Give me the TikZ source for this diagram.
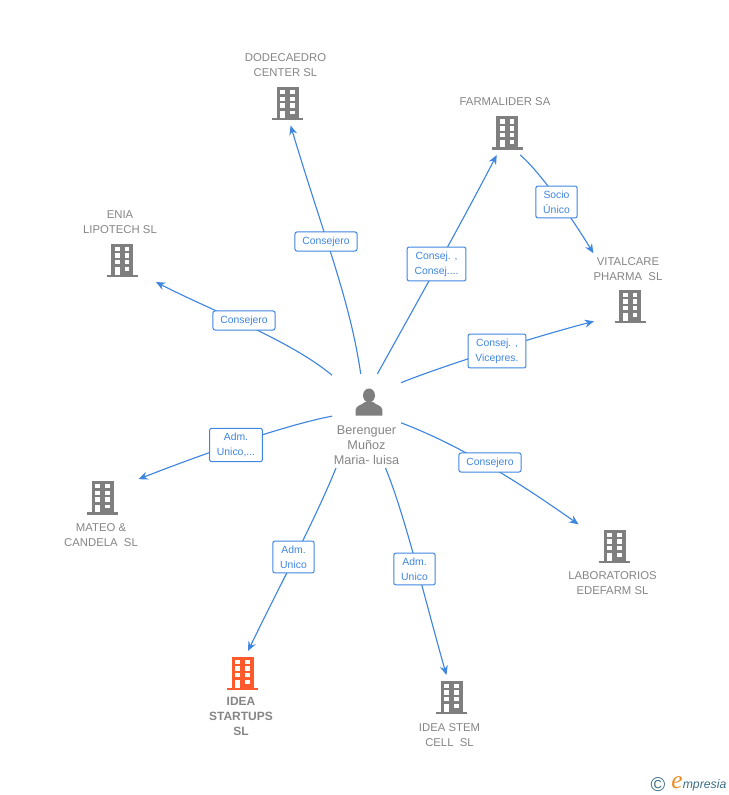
\documentclass[tikz,border=0pt]{standalone}
\usepackage{fontspec}
\setmainfont{Liberation Sans}
\newfontfamily\logoserif{Liberation Serif}
\usetikzlibrary{arrows.meta}
\definecolor{linkblue}{HTML}{3F86E0}
\definecolor{iconteal}{HTML}{3D6E86}
\definecolor{icongray}{HTML}{7F7F7F}
\definecolor{textgray}{HTML}{858585}
\definecolor{startorange}{HTML}{FF5A2C}
\definecolor{logoorange}{HTML}{F08A24}
\tikzset{
  link/.style={linkblue, line width=0.85pt, -{Stealth[length=7pt,width=6pt]}},
  tag/.style={draw=linkblue, fill=white, rounded corners=1.5pt, line width=0.75pt, text=linkblue, align=center,
    font=\fontsize{7.8}{11.2}\selectfont, inner xsep=5.5pt, inner ysep=3.5pt},
  hub/.style={minimum width=54pt, minimum height=33pt, inner sep=0pt, outer sep=0pt},
  company/.style={text=textgray, align=center, font=\fontsize{8.5}{11.2}\selectfont, inner xsep=0pt, inner ysep=3pt},
  pics/building/.style={code={
    \fill[#1] (-11,-16.5) rectangle (11,14.5);
    \fill[#1] (-15.5,14.5) rectangle (15.5,17);
    \foreach \top in {-13.5,-6.8,-0.2} {
      \fill[white] (-7.2,\top) rectangle ++(4.7,4.4);
      \fill[white] (2.5,\top) rectangle ++(4.9,4.4);
    }
    \fill[white] (-7.2,7.2) rectangle (-2.5,14.5);
    \fill[white] (2.5,7.2) rectangle (7.4,10.6);
  }}
}
\begin{document}
\begin{tikzpicture}[x=0.75pt,y=-0.75pt]
\useasboundingbox (0,0) rectangle (728,795);
%% company icons
\foreach \name/\x/\y/\hue in {dodecaedro/287.5/103.5/icongray, enia/122/260/icongray, farmalider/507/133/icongray,
  vitalcare/630/306/icongray, mateo/102.5/497.5/icongray, edefarm/614.5/546/icongray,
  startups/242.5/673/startorange, stemcell/451.5/697/icongray} {
  \node[hub] (\name) at (\x,\y) {};
  \pic at (\x,\y) {building=\hue};
}
%% company names
\node[company] (dodecaedroName) at (285.5,65) {DODECAEDRO\\CENTER SL};
\node[company] (eniaName) at (120,222) {ENIA\\LIPOTECH SL};
\node[company] (farmaliderName) at (505,102) {FARMALIDER SA};
\node[company] (vitalcareName) at (628,269) {VITALCARE\\PHARMA~ SL};
\node[company] (mateoName) at (101,535) {MATEO \&\\CANDELA~ SL};
\node[company] (edefarmName) at (612.5,583) {LABORATORIOS\\EDEFARM SL};
\node[company, font=\fontsize{9}{11.2}\selectfont\bfseries] (startupsName) at (241,716.5) {IDEA\\STARTUPS\\SL};
\node[company] (stemcellName) at (449.5,735) {IDEA STEM\\CELL~ SL};
%% person
\node[minimum width=51.75pt, minimum height=70.5pt, inner sep=0pt, outer sep=0pt] (berenguer) at (366.5,421) {};
\fill[icongray] (369,395.5) ellipse (6 and 7);
\fill[icongray] (355.7,415.7) -- (355.7,409.5) .. controls (356,405.5) and (362,405) .. (365,402)
  -- (373,402) .. controls (376,405) and (382,405.5) .. (382.3,409.5) -- (382.3,415.7) -- cycle;
\node[text=textgray, align=center, font=\fontsize{9.5}{11.4}\selectfont, inner sep=0pt] (berenguerName) at (366.5,445) {Berenguer\\Muñoz\\Maria- luisa};
%% connectors
\draw[link] (berenguer.97) .. controls (350,300) and (325,240) .. (dodecaedro.-82);
\draw[link] (berenguer.127) .. controls (290,340) and (210,310) .. (enia.-33);
\draw[link] (berenguer.77) .. controls (410,315) and (455,235) .. (farmalider.-115);
\draw[link] (farmalider.-59) .. controls (540,172) and (570,215) .. (vitalcareName.north west);
\draw[link] (berenguer.48) .. controls (440,367) and (530,338) .. (vitalcare.-157);
\draw[link] (berenguer.172) .. controls (285,425) and (200,455) .. (mateo.27);
\draw[link] (berenguer.-3) .. controls (460,445) and (520,483) .. (edefarm.149);
\draw[link] (berenguer.-123) .. controls (315,520) and (280,585) .. (startups.76);
\draw[link] (berenguer.-68) .. controls (405,515) and (425,600) .. (stemcell.103);
%% connector tags
\node[tag] (tagDodecaedro) at (326,241.5) {Consejero};
\node[tag] (tagEnia) at (244,320.5) {Consejero};
\node[tag] (tagFarmalider) at (436.5,264) {Consej. ,\\Consej....};
\node[tag] (tagSocio) at (556.5,202) {Socio\\Único};
\node[tag] (tagVitalcare) at (497,351) {Consej. ,\\Vicepres.};
\node[tag] (tagMateo) at (236,445) {Adm.\\Unico,...};
\node[tag] (tagEdefarm) at (490,462.5) {Consejero};
\node[tag] (tagStartups) at (293.5,557) {Adm.\\Unico};
\node[tag] (tagStemcell) at (414.5,569) {Adm.\\Unico};
%% logo
\node[text=iconteal, font=\fontsize{15}{15}\selectfont, inner sep=0pt] (logoCopy) at (658,785) {\textcopyright};
\node[text=logoorange, font=\fontsize{19}{19}\selectfont\logoserif\itshape, inner sep=0pt] (logoE) at (677,783) {e};
\node[text=iconteal, anchor=west, font=\fontsize{9.2}{9.2}\selectfont\itshape, inner sep=0pt] (logoName) at (682.5,785) {mpresia};
\end{tikzpicture}
\end{document}
